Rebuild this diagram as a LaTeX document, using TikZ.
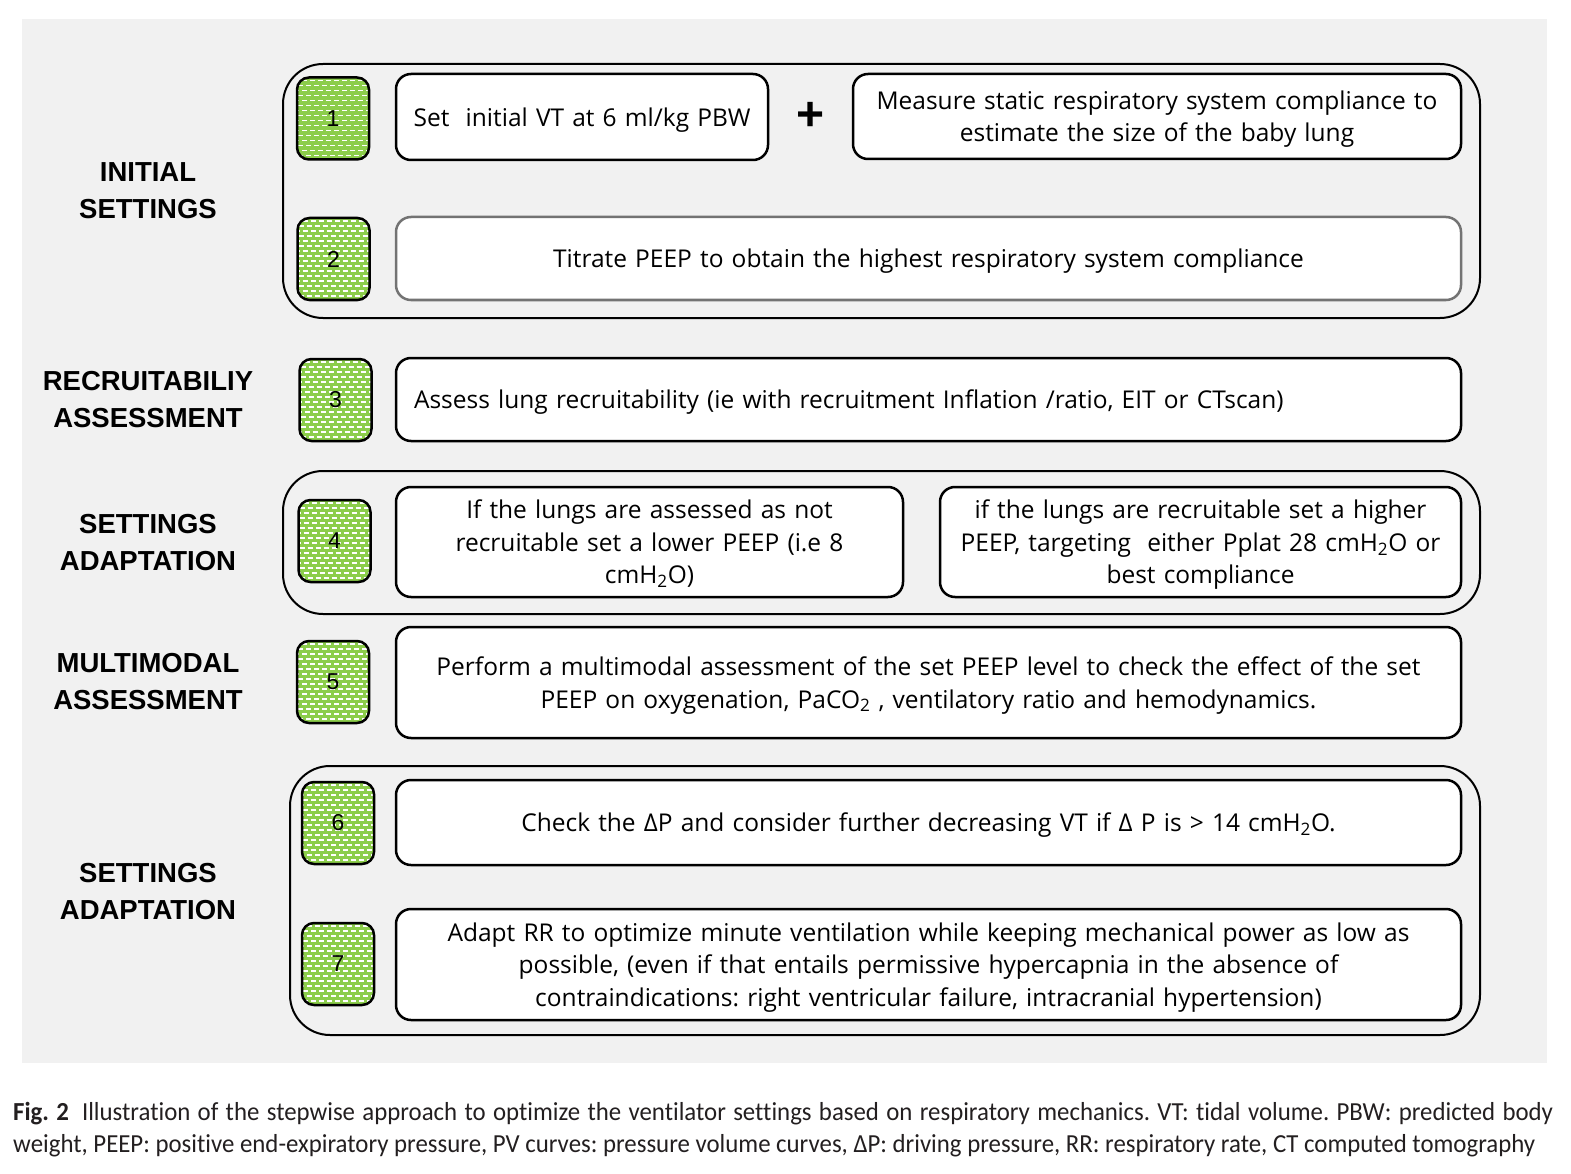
\documentclass[tikz,border=0pt]{standalone}
\usepackage{fontspec}
\setmainfont[RawFeature=-liga]{Open Sans}
\newfontfamily\labfont{Liberation Sans}
\newfontfamily\capfont[FakeStretch=0.955,RawFeature=-liga]{Carlito}
\definecolor{bggray}{RGB}{241,241,241}
\definecolor{sqgreen}{RGB}{140,205,75}
\definecolor{capcol}{RGB}{35,31,32}
\frenchspacing
\begin{document}
\begin{tikzpicture}[x=1pt,y=-1pt,
  grp/.style={draw, line width=2pt, rounded corners=40pt, inner sep=0pt},
  box/.style={draw, line width=2.5pt, rounded corners=15pt, fill=white, inner sep=0pt, align=center,
     font=\fontsize{24.5}{32.5}\selectfont,
     execute at begin node={\rule{0pt}{25.5pt}},
     execute at end node={\rule[-7pt]{0pt}{7pt}}},
  sq/.style={draw, line width=2.5pt, rounded corners=12pt, fill=sqgreen, minimum width=72pt, minimum height=82pt,
     inner sep=0pt, font=\labfont\fontsize{23}{23}\selectfont,
     path picture={
       \foreach \r in {0,...,16}{
         \pgfmathsetmacro\off{mod(\r,2)*4}
         \foreach \c in {0,...,9}{
           \draw[white, line width=1.5pt] ([shift={(\c*8+\off-3,\r*5+3)}]path picture bounding box.north west) -- ++(5,0);
         }}}},
  lab/.style={align=center, inner sep=0pt, font=\labfont\bfseries\fontsize{27.5}{37}\selectfont},
  captext/.style={anchor=base west, inner sep=0pt, text=capcol, font=\capfont\fontsize{26}{32}\selectfont}
]
\useasboundingbox (0,0) rectangle (1571,1174);
\fill[white] (0,0) rectangle (1571,1174);
\fill[bggray] (22,19) rectangle (1547,1063);

% groups
\node[grp, minimum width=1197pt, minimum height=254pt] (g1) at (881.5,191) {};
\node[grp, minimum width=1197pt, minimum height=143pt] (g4) at (881.5,542.5) {};
\node[grp, minimum width=1190pt, minimum height=269pt] (g6) at (885,900.5) {};

% labels
\node[lab] (l1) at (148,191) {INITIAL\\SETTINGS};
\node[lab] (l2) at (148,400) {RECRUITABILIY\\ASSESSMENT};
\node[lab] (l3) at (148,543) {SETTINGS\\ADAPTATION};
\node[lab] (l4) at (148,682) {MULTIMODAL\\ASSESSMENT};
\node[lab] (l5) at (148,892) {SETTINGS\\ADAPTATION};

% squares
\node[sq] (s1) at (333,118.5) {1};
\node[sq] (s2) at (333.5,259) {2};
\node[sq] (s3) at (335.5,400) {3};
\node[sq] (s4) at (334.5,541) {4};
\node[sq] (s5) at (333,682) {5};
\node[sq] (s6) at (338,823) {6};
\node[sq] (s7) at (338,964) {7};

% boxes
\node[box, minimum width=372pt, minimum height=86pt, text width=355pt] (b1) at (582,117) {Set~ initial VT at 6 ml/kg PBW};
\node[font=\labfont\bfseries\fontsize{48}{48}\selectfont, inner sep=0pt] (plus) at (811,116) {+};
\node[box, minimum width=608pt, minimum height=85pt, text width=595pt] (b1b) at (1157,116.5) {Measure static respiratory system compliance to\\estimate the size of the baby lung};
\node[box, draw=black!55, minimum width=1065pt, minimum height=83pt, text width=1040pt] (b2) at (928.5,258.5) {Titrate PEEP to obtain the highest respiratory system compliance};
\node[box, align=left, minimum width=1065pt, minimum height=83pt, text width=1029pt] (b3) at (928.5,399.5) {Assess lung recruitability (ie with recruitment Inflation /ratio, EIT or CTscan)};
\node[box, minimum width=507pt, minimum height=110pt, text width=495pt] (b4a) at (649.5,542) {If the lungs are assessed as not\\recruitable set a lower PEEP (i.e 8\\cmH\textsubscript{2}O)};
\node[box, minimum width=521pt, minimum height=110pt, text width=510pt] (b4b) at (1200.5,542) {if the lungs are recruitable set a higher\\PEEP, targeting~ either Pplat 28 cmH\textsubscript{2}O or\\best compliance};
\node[box, minimum width=1065pt, minimum height=111pt, text width=1045pt] (b5) at (928.5,682.5) {Perform a multimodal assessment of the set PEEP level to check the effect of the set\\PEEP on oxygenation, PaCO\textsubscript{2} , ventilatory ratio and hemodynamics.};
\node[box, minimum width=1065pt, minimum height=85pt, text width=1045pt] (b6) at (928.5,822.5) {Check the ΔP and consider further decreasing VT if Δ P is > 14 cmH\textsubscript{2}O.};
\node[box, minimum width=1065pt, minimum height=111pt, text width=1045pt] (b7) at (928.5,964.5) {Adapt RR to optimize minute ventilation while keeping mechanical power as low as\\possible, (even if that entails permissive hypercapnia in the absence of\\contraindications: right ventricular failure, intracranial hypertension)};

% caption
\node[captext] (c1) at (13,1120) {\makebox[1540pt][s]{\textbf{Fig. 2}\enspace Illustration of the stepwise approach to optimize the ventilator settings based on respiratory mechanics. VT: tidal volume. PBW: predicted body}};
\node[captext] (c2) at (13,1152) {weight, PEEP: positive end-expiratory pressure, PV curves: pressure volume curves, ΔP: driving pressure, RR: respiratory rate, CT computed tomography};
\end{tikzpicture}
\end{document}
